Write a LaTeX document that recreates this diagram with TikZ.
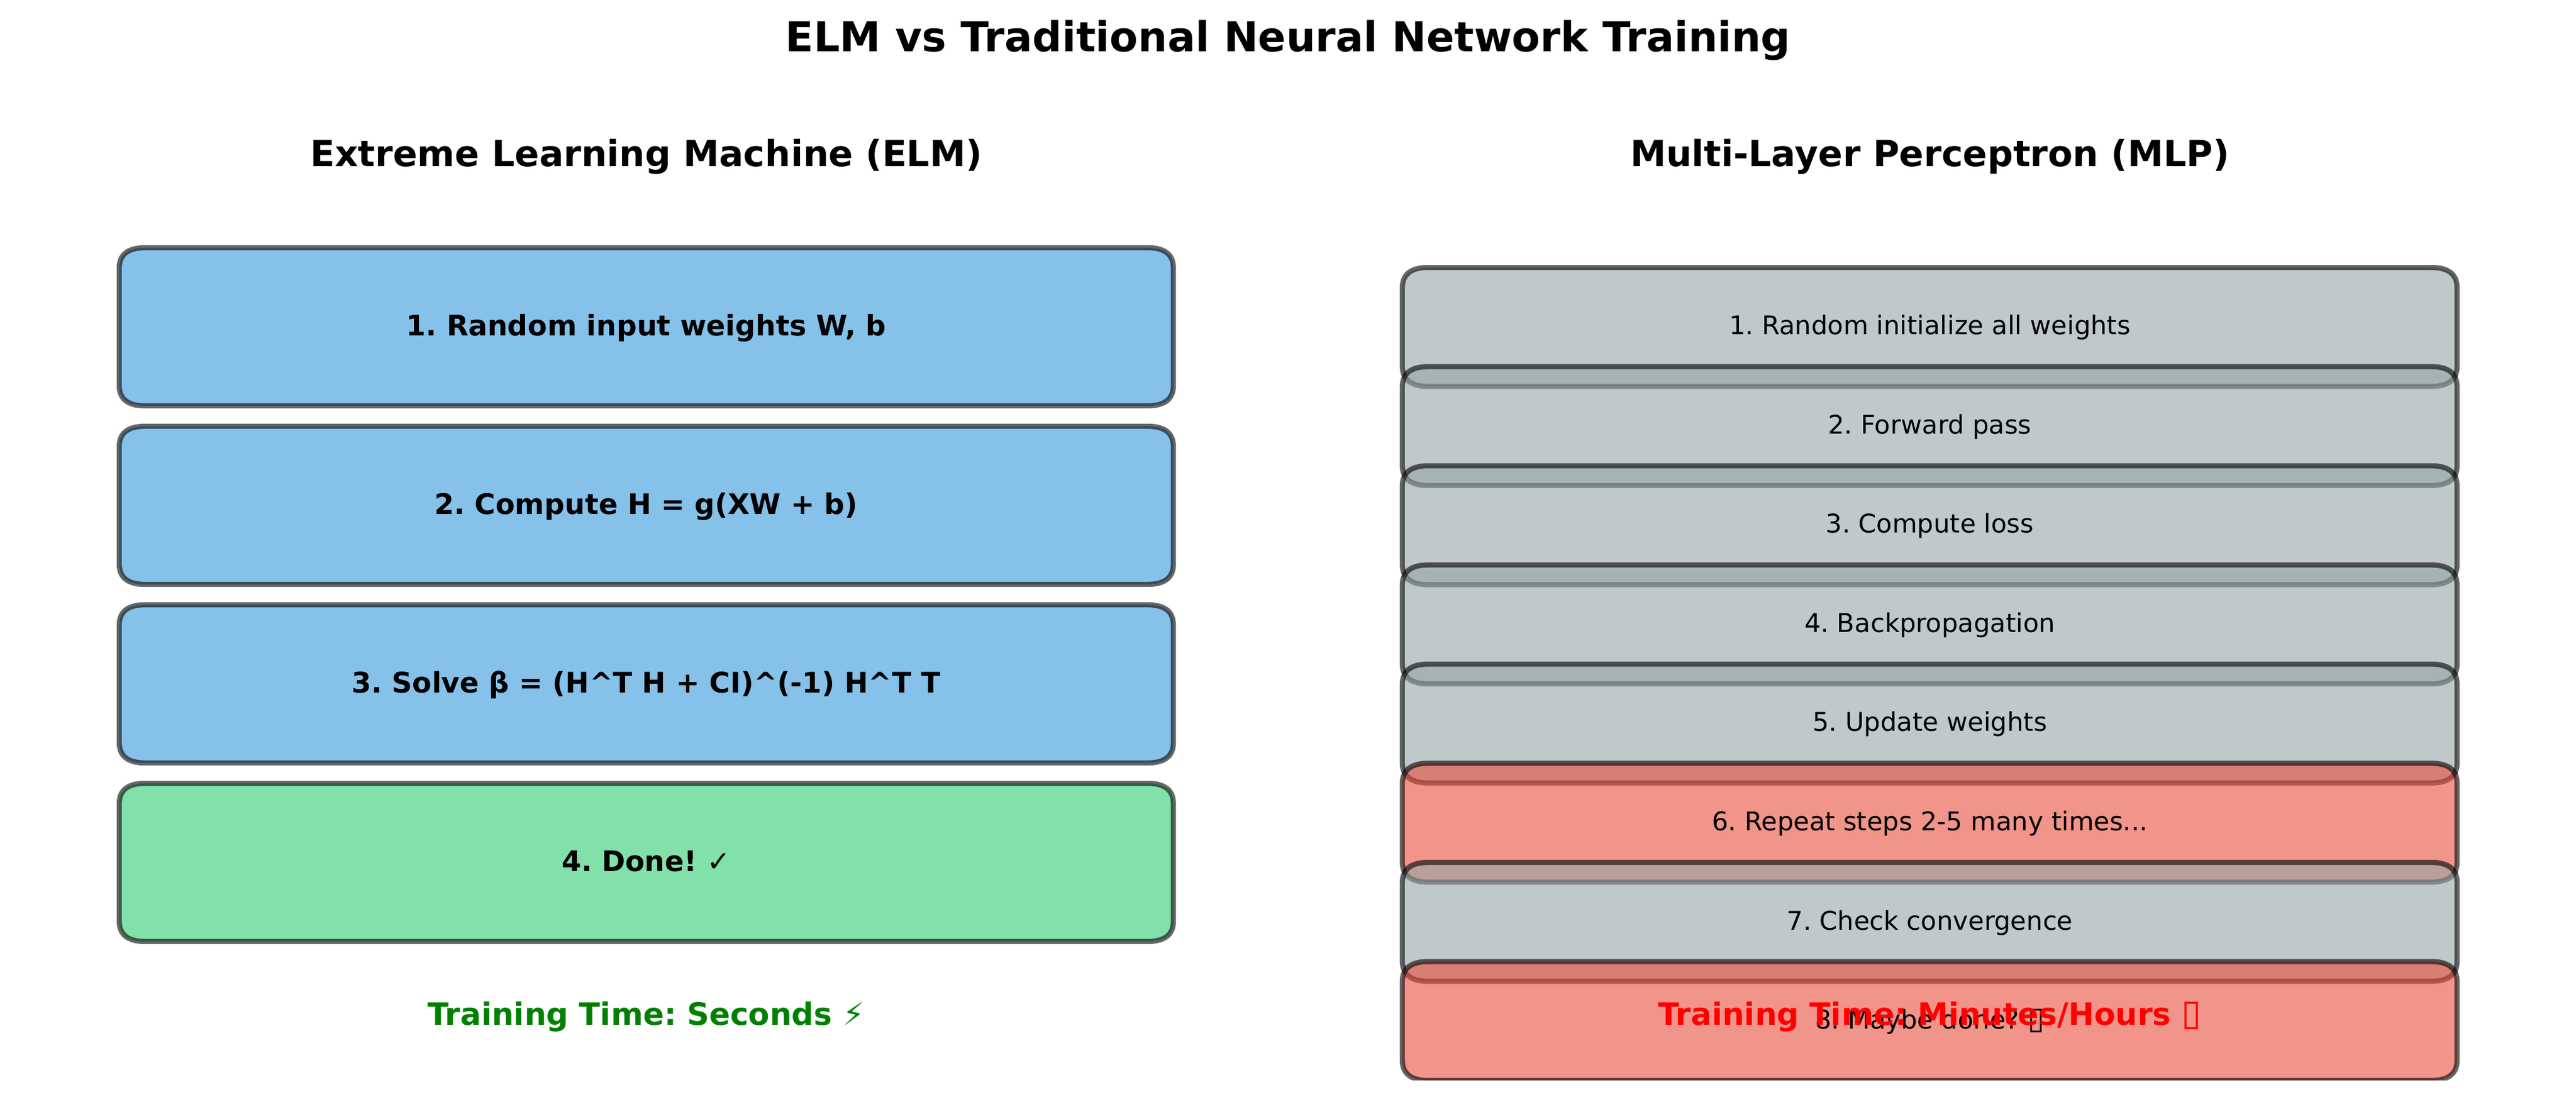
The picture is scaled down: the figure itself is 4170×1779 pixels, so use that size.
\documentclass[tikz,border=0pt]{standalone}
\usepackage{fontspec}
\setmainfont{DejaVu Sans}
\definecolor{cblue}{HTML}{3498DB}
\definecolor{cgreen}{HTML}{2ECC71}
\definecolor{cgray}{HTML}{95A5A6}
\definecolor{cred}{HTML}{E74C3C}
\definecolor{tgreen}{HTML}{008000}
\tikzset{
  x=0.24pt,y=-0.24pt,
  stepshape/.style={draw=black,line width=2pt,draw opacity=0.6,fill opacity=0.6},
  basetext/.style={inner sep=0pt,anchor=base},
  titletext/.style={basetext,font=\fontsize{16}{20}\selectfont\bfseries},
  headtext/.style={basetext,font=\fontsize{14}{18}\selectfont\bfseries},
  elmtext/.style={basetext,font=\fontsize{11}{14}\selectfont\bfseries},
  mlptext/.style={basetext,font=\fontsize{10}{13}\selectfont},
  timetext/.style={basetext,font=\fontsize{12}{15}\selectfont\bfseries},
}
% x0 y0 x1 y1 colour
\newcommand{\stepbox}[5]{%
  \path[stepshape,fill=#5]
    ({#1+42},#2) -- ({#3-42},#2) .. controls ({#3-14},#2) and (#3,{#2+11}) .. (#3,{#2+33})
    -- (#3,{#4-33}) .. controls (#3,{#4-11}) and ({#3-14},#4) .. ({#3-42},#4)
    -- ({#1+42},#4) .. controls ({#1+14},#4) and (#1,{#4-11}) .. (#1,{#4-33})
    -- (#1,{#2+33}) .. controls (#1,{#2+11}) and ({#1+14},#2) .. ({#1+42},#2) -- cycle;}
\begin{document}
\frenchspacing
\begin{tikzpicture}
\useasboundingbox (0,0) rectangle (4170,1779);
\stepbox{193}{401}{1899.5}{657}{cblue}
\stepbox{193}{690}{1899.5}{946}{cblue}
\stepbox{193}{979}{1899.5}{1235}{cblue}
\stepbox{193}{1268}{1899.5}{1524}{cgreen}
\stepbox{2270}{433}{3977.5}{625.5}{cgray}
\stepbox{2270}{593.5}{3977.5}{786}{cgray}
\stepbox{2270}{754}{3977.5}{946.5}{cgray}
\stepbox{2270}{914.5}{3977.5}{1107}{cgray}
\stepbox{2270}{1075}{3977.5}{1267.5}{cgray}
\stepbox{2270}{1235.5}{3977.5}{1428}{cred}
\stepbox{2270}{1396}{3977.5}{1588.5}{cgray}
\begin{scope}
\clip (0,0) rectangle (4170,1748);
\stepbox{2270}{1556.5}{3977.5}{1749}{cred}
\end{scope}
\node[titletext] (title) at (2085,84) {ELM vs Traditional Neural Network Training};
\node[headtext] (elmhead) at (1046,270) {Extreme Learning Machine (ELM)};
\node[headtext] (mlphead) at (3124,270) {Multi-Layer Perceptron (MLP)};
\node[elmtext] (e1) at (1046,543.5) {1. Random input weights W, b};
\node[elmtext] (e2) at (1046,832.5) {2. Compute H = g(XW + b)};
\node[elmtext] (e3) at (1046,1121.5) {3. Solve β = (H\textasciicircum T H + CI)\textasciicircum(-1) H\textasciicircum T T};
\node[elmtext] (e4) at (1046,1410.5) {4. Done! ✓};
\node[mlptext] (m1) at (3124,542) {1. Random initialize all weights};
\node[mlptext] (m2) at (3124,702.5) {2. Forward pass};
\node[mlptext] (m3) at (3124,863) {3. Compute loss};
\node[mlptext] (m4) at (3124,1023.5) {4. Backpropagation};
\node[mlptext] (m5) at (3124,1184) {5. Update weights};
\node[mlptext] (m6) at (3124,1344.5) {6. Repeat steps 2-5 many times...};
\node[mlptext] (m7) at (3124,1505) {7. Check convergence};
\node[mlptext] (m8) at (3124,1665.5) {8. Maybe done? {\fontsize{12}{12}\selectfont ▯}};
\node[timetext,text=tgreen] (te) at (1046,1659.5) {Training Time: Seconds ⚡};
\node[timetext,text=red] (tm) at (3124,1659.5) {Training Time: Minutes/Hours {\fontsize{14}{14}\selectfont ▯}};
\end{tikzpicture}
\end{document}
